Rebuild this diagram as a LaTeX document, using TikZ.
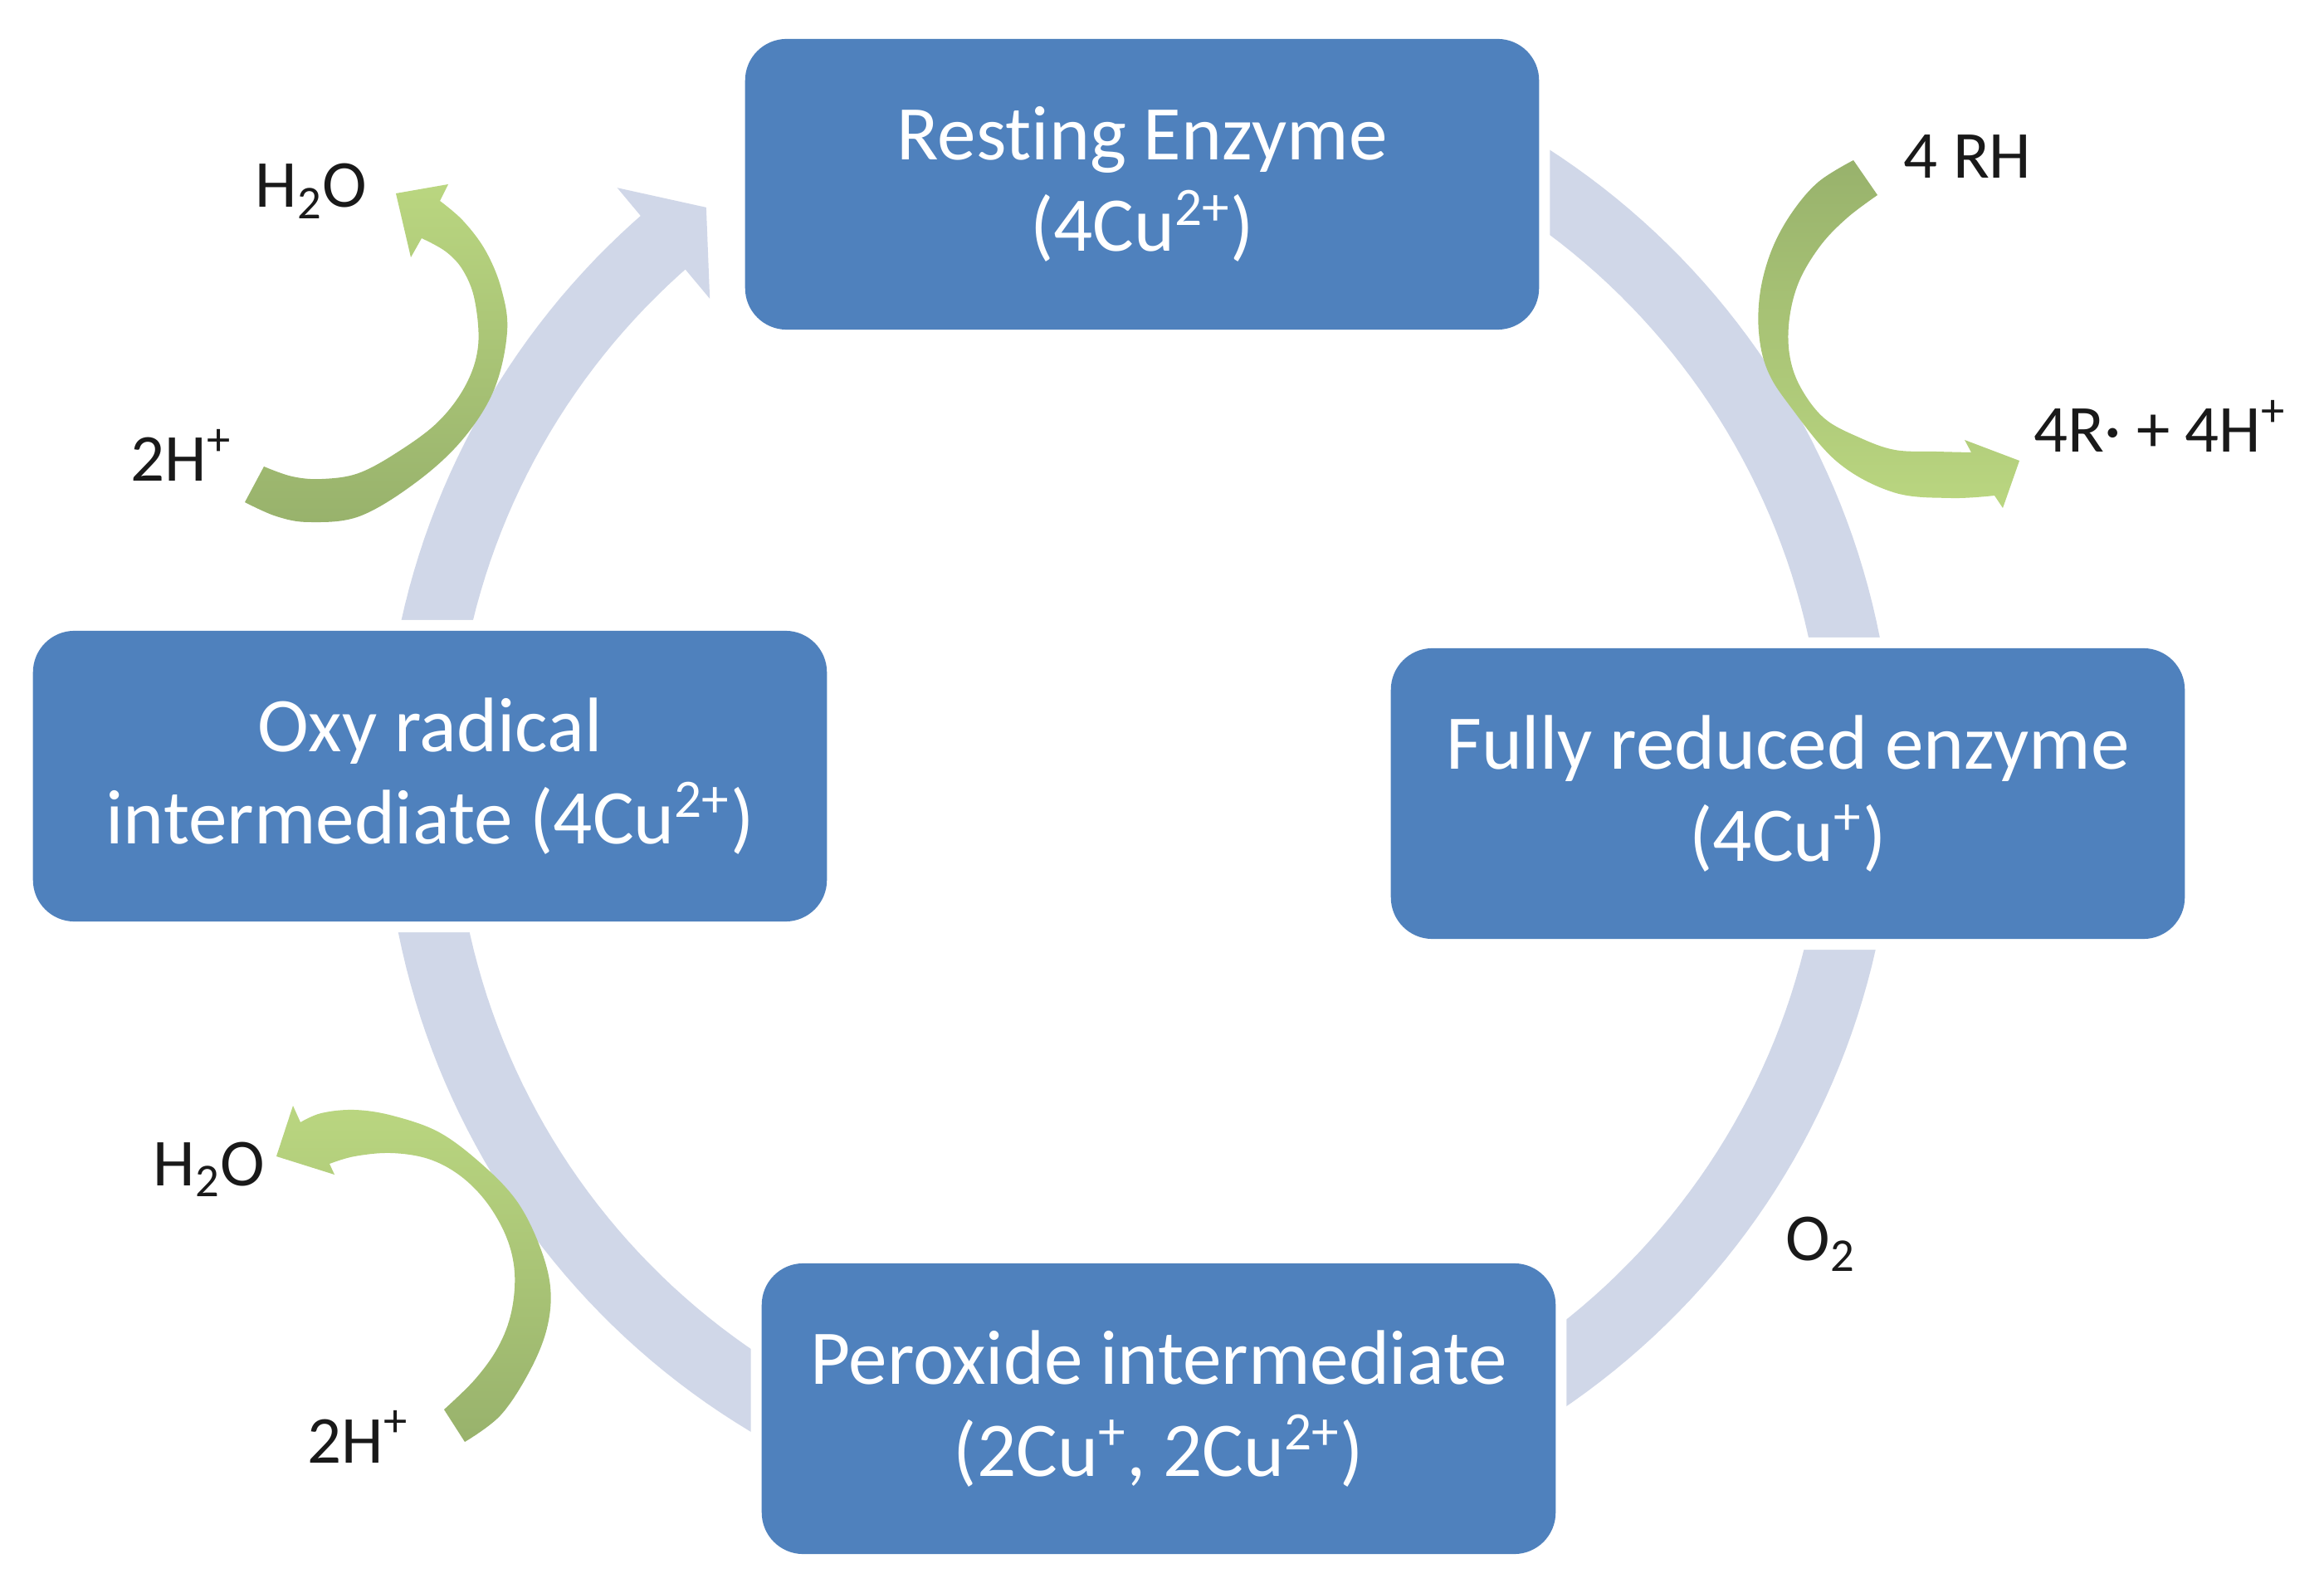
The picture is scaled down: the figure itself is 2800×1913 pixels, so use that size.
\documentclass[tikz,border=0pt]{standalone}
\usepackage{fontspec}
\setmainfont{Carlito}[Ligatures={TeX,NoCommon}]
\usetikzlibrary{calc}
\definecolor{boxblue}{RGB}{79,129,189}
\definecolor{bandc}{RGB}{208,215,232}
\definecolor{greenD}{RGB}{152,178,108}
\definecolor{greenL}{RGB}{186,214,128}
\definecolor{labc}{RGB}{25,25,25}
\newcommand{\boxfnt}{\fontsize{26.5}{31.5}\selectfont}
\newcommand{\labfnt}{\fontsize{23}{27}\selectfont}
\begin{document}
\begin{tikzpicture}[x=0.01cm,y=-0.01cm,
  stage/.style={rounded corners=0.5cm, fill=boxblue, text=white,
    minimum width=9.56cm, minimum height=3.5cm, inner sep=0pt,
    align=center, font=\boxfnt, preaction={draw=white, line width=0.26cm}},
  lab/.style={anchor=base west, inner sep=0pt, font=\labfnt, text=labc},
  band/.style={draw=bandc, line width=0.84cm},
  greenup/.style={top color=greenL, bottom color=greenD},
  greendown/.style={top color=greenD, bottom color=greenL}]
\useasboundingbox (0,0) rectangle (2800,1913);
\fill[white] (0,0) rectangle (2800,1913);

% cycle band
\coordinate (ctr) at (1372,944);
\draw[band] plot[domain=-60:229.3, samples=220] ({1372+868*cos(\x)},{944+868*sin(\x)});
\fill[bandc] ($(ctr)+(228.8:954)$) -- ($(ctr)+(233.1:868)$) -- ($(ctr)+(228.5:780)$) -- cycle;

% stages
\node[stage] (rest)  at (1376,222)  {Resting Enzyme\\(4Cu\textsuperscript{2+})};
\node[stage] (full)  at (2154,956)  {Fully reduced enzyme\\(4Cu\textsuperscript{+})};
\node[stage] (perox) at (1396,1697) {Peroxide intermediate\\(2Cu\textsuperscript{+}, 2Cu\textsuperscript{2+})};
\node[stage] (oxy)   at (518,935)   {Oxy radical\\intermediate (4Cu\textsuperscript{2+})};

% green side arrows
\shade[greenup] plot[smooth, tension=0.6] coordinates {(295,605) (333,622) (373,629) (433,622) (500,582) (556,531) (595,470) (611,400) (604,348) (585,302) (558,266) (530,242)}
  -- (540,222) -- (477,233) -- (495,310)
  -- plot[smooth, tension=0.6] coordinates {(508,287) (537,303) (558,326) (572,362) (576,417) (561,464) (528,508) (480,544) (432,570) (388,577) (352,574) (318,562)}
  -- cycle;

\shade[greendown] plot[smooth, tension=0.6] coordinates {(2233,193) (2191,219) (2159,256) (2135,300) (2121,350) (2119,400) (2129,445) (2155,487) (2213,556) (2281,593) (2350,600) (2403,597)}
  -- (2413,612) -- (2433,555) -- (2367,530)
  -- plot[smooth, tension=0.6] coordinates {(2375,545) (2333,544) (2283,542) (2240,527) (2198,504) (2169,466) (2156,427) (2156,383) (2168,338) (2194,295) (2226,262) (2262,235)}
  -- cycle;

\shade[greenup] plot[smooth, tension=0.6] coordinates {(560,1737) (603,1705) (638,1652) (659,1600) (663,1550) (649,1498) (622,1446) (580,1402) (529,1364) (473,1344) (427,1337) (387,1341) (362,1352)}
  -- (353,1332) -- (333,1393) -- (403,1415)
  -- plot[smooth, tension=0.6] coordinates {(397,1402) (427,1393) (471,1389) (516,1396) (554,1416) (586,1448) (610,1490) (620,1533) (616,1581) (600,1623) (572,1662) (535,1698)}
  -- cycle;

% labels
\node[lab] (h2oA) at (307,250)  {H\textsubscript{2}O};
\node[lab] (hpA)  at (157,580)  {2H\textsuperscript{+}};
\node[lab] (rh)   at (2293,215) {4 RH};
\node[lab] (rdot) at (2450,545) {4R· + 4H\textsuperscript{+}};
\node[lab] (h2oB) at (184,1428) {H\textsubscript{2}O};
\node[lab] (hpB)  at (370,1762) {2H\textsuperscript{+}};
\node[lab] (otwo) at (2151,1518) {O\textsubscript{2}};
\end{tikzpicture}
\end{document}
